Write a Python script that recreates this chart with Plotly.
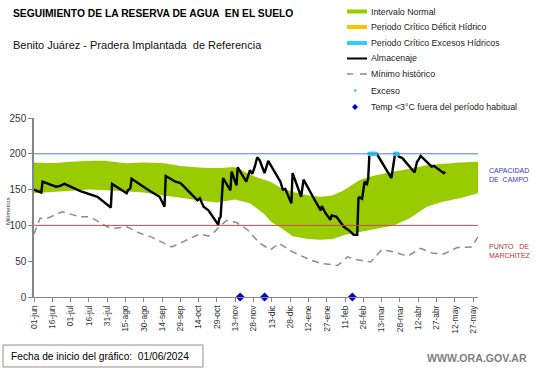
import pandas as pd
import plotly.graph_objects as go

START = pd.Timestamp("2024-06-01")

# ---- data (day offsets from 01/06/2024) ----
band_days = [0, 15, 30, 45, 60, 75, 90, 105, 120, 135, 150, 165, 177, 188, 195, 202, 212, 225, 235, 245, 255, 267, 280, 295, 308, 322, 335, 349, 364]
band_upper = [188, 187, 189, 190, 190, 187, 188, 187, 183, 181, 180, 181, 171, 164, 160, 153, 147, 142, 140, 142, 150, 163, 170, 175, 179, 184, 186, 188, 189]
band_lower = [145, 147, 149, 150, 149, 148, 146, 142, 138, 135, 132, 136, 131, 117, 104, 97, 85, 81, 80, 81, 87, 91, 96, 100, 110, 126, 133, 138, 145]

min_days = [0, 5, 11, 23, 38, 46, 60, 65, 76, 87, 96, 113, 122, 136, 143, 148, 153, 158, 166, 175, 185, 194, 201, 212, 226, 235, 249, 257, 265, 276, 285, 295, 306, 317, 327, 336, 347, 359, 364]
min_vals = [88, 110, 110, 119, 112, 112, 98, 96, 98, 89, 84, 70, 77, 88, 85, 91, 100, 107, 104, 94, 75, 66, 75, 63, 52, 47, 44, 56, 52, 49, 66, 63, 57, 68, 61, 60, 69, 70, 84]

alm_days = [0, 5, 6, 7, 18, 21, 23, 25, 38, 52, 63, 64, 76, 77, 79, 80, 95, 103, 107, 108, 116, 120, 122, 134, 136, 139, 143, 151, 152, 153, 155, 161, 162, 166, 167, 174, 177, 179, 181, 183, 185, 189, 192, 202, 204, 206, 211, 212, 219, 221, 229, 230, 235, 236, 239, 243, 244, 248, 250, 254, 259, 262, 265, 266, 267, 269, 271, 273, 274, 275, 281, 293, 296, 298, 299, 302, 312, 314, 315, 317, 326, 328, 336, 337]
alm_vals = [150, 147, 146, 161, 154, 155, 156, 158, 148, 140, 125, 158, 145, 149, 152, 165, 148, 140, 126, 169, 161, 159, 156, 135, 138, 126, 121, 101, 110, 112, 166, 149, 175, 156, 181, 161, 177, 172, 182, 195, 191, 173, 190, 161, 150, 151, 131, 173, 140, 164, 139, 136, 121, 127, 117, 108, 114, 112, 107, 98, 92, 87, 87, 138, 139, 137, 161, 158, 166, 200, 200, 166, 200, 200, 196, 194, 174, 189, 191, 197, 182, 183, 173, 175]

exceso_days = [275, 276, 277, 278, 279, 280, 296, 297, 298]
exceso_vals = [200, 200, 200, 200, 200, 200, 200, 200, 200]

frio_days = [169, 189, 261]
frio_vals = [0, 0, 0]

capacidad_campo = 200
punto_marchitez = 100

tick_labels = ["01-jun", "16-jun", "01-jul", "16-jul", "31-jul", "15-ago", "30-ago", "14-sep", "29-sep",
               "14-oct", "29-oct", "13-nov", "28-nov", "13-dic", "28-dic", "12-ene", "27-ene", "11-feb",
               "26-feb", "13-mar", "28-mar", "12-abr", "27-abr", "12-may", "27-may"]
y_ticks = [0, 50, 100, 150, 200, 250]


def to_dates(days):
    return START + pd.to_timedelta(days, unit="D")


tick_vals = pd.date_range(START, periods=len(tick_labels), freq="15D")

W, H = 541, 368
L, R, T, B = 34, 63, 118, 71
PW, PH = W - L - R, H - T - B


def px(x):
    return (x - L) / PW


def py(y):
    return (H - B - y) / PH


FONT = "Liberation Sans, Arial, sans-serif"
GREEN = "#99CC00"
CYAN = "#33CCFF"

fig = go.Figure()

fig.add_trace(go.Scatter(x=to_dates(band_days), y=band_lower, mode="lines",
                         line=dict(width=0, color=GREEN), showlegend=False, hoverinfo="skip"))
fig.add_trace(go.Scatter(x=to_dates(band_days), y=band_upper, mode="lines", fill="tonexty",
                         fillcolor=GREEN, line=dict(width=0, color=GREEN, shape="spline", smoothing=0.6),
                         showlegend=False))
fig.add_trace(go.Scatter(x=to_dates(min_days), y=min_vals, mode="lines",
                         line=dict(width=1.5, color="#8C8C8C", dash="7px,5px"), showlegend=False))
fig.add_trace(go.Scatter(x=to_dates(alm_days), y=alm_vals, mode="lines",
                         line=dict(width=2.4, color="black"), showlegend=False))
fig.add_trace(go.Scatter(x=to_dates(exceso_days), y=exceso_vals, mode="markers",
                         marker=dict(symbol="square", size=4, color=CYAN), showlegend=False))
fig.add_trace(go.Scatter(x=to_dates(frio_days), y=frio_vals, mode="markers", cliponaxis=False,
                         marker=dict(symbol="diamond", size=7, color="#0000CC"), showlegend=False))

shapes = [
    dict(type="line", xref="paper", yref="y", x0=0, x1=1, y0=capacidad_campo, y1=capacidad_campo,
         line=dict(color="#5B7BC8", width=1)),
    dict(type="line", xref="paper", yref="y", x0=0, x1=1, y0=punto_marchitez, y1=punto_marchitez,
         line=dict(color="#C0504D", width=1)),
]

# manual legend
leg_rows = [
    ("Intervalo Normal", 11.5, "band", GREEN),
    ("Periodo Crítico Déficit Hídrico", 27, "band", "#FFC000"),
    ("Periodo Crítico Excesos Hídricos", 43, "band", CYAN),
    ("Almacenaje", 58.5, "line", "black"),
    ("Mínimo histórico", 74, "dash", "#8C8C8C"),
    ("Exceso", 90.5, "dot", CYAN),
    ("Temp <3°C fuera del período habitual", 107, "diamond", "#0000CC"),
]
annotations = []
for text, yy, kind, col in leg_rows:
    if kind == "band":
        shapes.append(dict(type="line", xref="paper", yref="paper", x0=px(347), x1=px(367),
                           y0=py(yy), y1=py(yy), line=dict(color=col, width=4)))
    elif kind == "line":
        shapes.append(dict(type="line", xref="paper", yref="paper", x0=px(347), x1=px(367),
                           y0=py(yy), y1=py(yy), line=dict(color=col, width=2)))
    elif kind == "dash":
        for a, b in ((347, 353), (360, 367)):
            shapes.append(dict(type="line", xref="paper", yref="paper", x0=px(a), x1=px(b),
                               y0=py(yy), y1=py(yy), line=dict(color=col, width=1.5)))
    elif kind == "dot":
        shapes.append(dict(type="rect", xref="paper", yref="paper", x0=px(354), x1=px(356.5),
                           y0=py(yy + 1.2), y1=py(yy - 1.2), line=dict(width=0), fillcolor=col))
    elif kind == "diamond":
        cx, cy, d = 355, yy, 3
        path = (f"M {px(cx - d)},{py(cy)} L {px(cx)},{py(cy - d)} L {px(cx + d)},{py(cy)} "
                f"L {px(cx)},{py(cy + d)} Z")
        shapes.append(dict(type="path", xref="paper", yref="paper", path=path,
                           line=dict(width=0), fillcolor=col))
    annotations.append(dict(text=text, xref="paper", yref="paper", x=px(369), y=py(yy),
                            xanchor="left", yanchor="middle", showarrow=False,
                            font=dict(family=FONT, size=8.8, color="#222")))

annotations += [
    dict(text="<b>SEGUIMIENTO DE LA RESERVA DE AGUA  EN EL SUELO</b>", xref="paper", yref="paper",
         x=px(11), y=py(14), xanchor="left", yanchor="middle", showarrow=False,
         font=dict(family=FONT, size=10.3, color="black")),
    dict(text="Benito Juárez - Pradera Implantada  de Referencia", xref="paper", yref="paper",
         x=px(11), y=py(45), xanchor="left", yanchor="middle", showarrow=False,
         font=dict(family=FONT, size=11, color="#111")),
    dict(text="Milímetros", xref="paper", yref="paper", x=px(8), y=py(211),
         xanchor="center", yanchor="middle", textangle=-90, showarrow=False,
         font=dict(family=FONT, size=6, color="#333")),
    dict(text="CAPACIDAD<br>DE  CAMPO", xref="paper", yref="paper", x=px(487), y=py(175),
         xanchor="left", yanchor="middle", align="left", showarrow=False,
         font=dict(family=FONT, size=7, color="#3A3AB8")),
    dict(text="PUNTO   DE<br>MARCHITEZ", xref="paper", yref="paper", x=px(487), y=py(251),
         xanchor="left", yanchor="middle", align="left", showarrow=False,
         font=dict(family=FONT, size=7, color="#C03030")),
    dict(text="Fecha de inicio del gráfico:  01/06/2024", xref="paper", yref="paper",
         x=px(9), y=py(356), xanchor="left", yanchor="middle", showarrow=False,
         font=dict(family=FONT, size=10.2, color="black")),
    dict(text="<b>WWW.ORA.GOV.AR</b>", xref="paper", yref="paper",
         x=px(529), y=py(358), xanchor="right", yanchor="middle", showarrow=False,
         font=dict(family=FONT, size=10.6, color="#7F7F7F")),
]
shapes.append(dict(type="rect", xref="paper", yref="paper", x0=px(3), x1=px(203),
                   y0=py(367), y1=py(345), line=dict(color="#A08888", width=1)))

fig.update_layout(
    template="none",
    width=W, height=H,
    margin=dict(l=L, r=R, t=T, b=B, pad=0),
    paper_bgcolor="white", plot_bgcolor="white",
    showlegend=False,
    shapes=shapes, annotations=annotations,
    xaxis=dict(type="date", range=[START, START + pd.Timedelta(days=364)],
               tickvals=tick_vals, ticktext=tick_labels, tickangle=-90,
               tickfont=dict(family=FONT, size=8.5, color="#333"),
               showline=True, linecolor="#868686", linewidth=1,
               ticks="outside", ticklen=4, tickcolor="#868686",
               showgrid=False, zeroline=False, automargin=False),
    yaxis=dict(range=[0, 250], tickvals=y_ticks,
               tickfont=dict(family=FONT, size=10, color="#333"),
               showline=True, linecolor="#868686", linewidth=1.5,
               ticks="outside", ticklen=4, tickcolor="#868686",
               showgrid=False, zeroline=False, automargin=False),
)

fig.write_html("out.html", config={"displayModeBar": False},
               post_script="document.body.style.margin='0px';document.body.style.overflow='hidden';")
